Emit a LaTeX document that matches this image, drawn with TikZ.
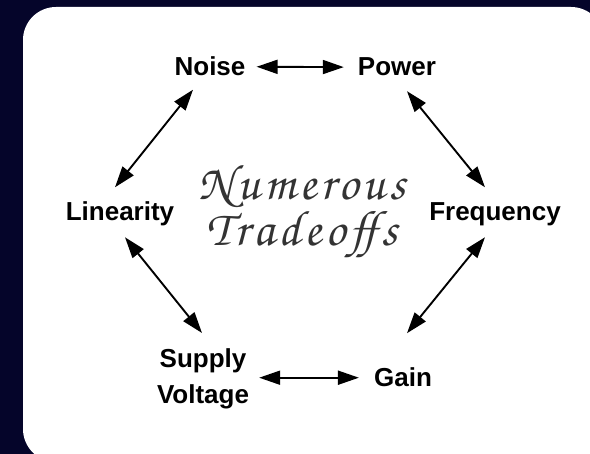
\documentclass[tikz,border=0pt]{standalone}
\usepackage{fontspec}
\setmainfont{Liberation Sans}
\newfontfamily\handfont[LetterSpace=8]{texgyrechorus-mediumitalic.otf}
\usetikzlibrary{arrows.meta}
\definecolor{nightblue}{HTML}{05052A}
\definecolor{inkgray}{HTML}{333333}

\tikzset{
  factor/.style={font=\fontsize{26}{36}\selectfont\bfseries,inner sep=0pt,align=center},
  tradeoff/.style={{Triangle[length=21pt,width=14pt]}-{Triangle[length=21pt,width=14pt]},line width=1.9pt}
}

\begin{document}
\begin{tikzpicture}[x=1pt,y=-1pt]
    \useasboundingbox (0,0) rectangle (590,454);
    \fill[nightblue] (0,0) rectangle (590,454);
    \begin{scope}
      \clip (0,0) rectangle (590,454);
      \fill[white,rounded corners=33pt] (23,7) rectangle (604,462);
    \end{scope}
    % the six factors
    \node[factor,anchor=base] (noise) at (210,76) {Noise};
    \node[factor,anchor=base] (power) at (397,76) {Power};
    \node[factor,anchor=base] (linearity) at (120,221) {Linearity};
    \node[factor,anchor=base] (frequency) at (495,221) {Frequency};
    \node[factor] (supply) at (203,379) {Supply\\Voltage};
    \node[factor,anchor=base] (gain) at (403,387) {Gain};
    \node[inkgray,align=center,font=\handfont\fontsize{50}{46}\selectfont] (tradeoffs) at (302,212) {Numerous\\Tradeoffs};
    % arrows round the ring
    \draw[tradeoff,shorten <=11pt,shorten >=14pt] (noise.east) -- (power.west);
    \draw[tradeoff] ([shift={(10,24)}]power.center) -- ([shift={(-10,-27.5)}]frequency.center);
    \draw[tradeoff] ([shift={(-10,22.5)}]frequency.center) -- ([shift={(4,-44.5)}]gain.center);
    \draw[tradeoff,shorten <=15pt,shorten >=10pt] (gain.west) -- (supply.east |- gain.west);
    \draw[tradeoff] ([shift={(-1,-46)}]supply.center) -- ([shift={(5,23)}]linearity.center);
    \draw[tradeoff] ([shift={(-5,-27)}]linearity.center) -- ([shift={(-17,23)}]noise.center);
\end{tikzpicture}
\end{document}
